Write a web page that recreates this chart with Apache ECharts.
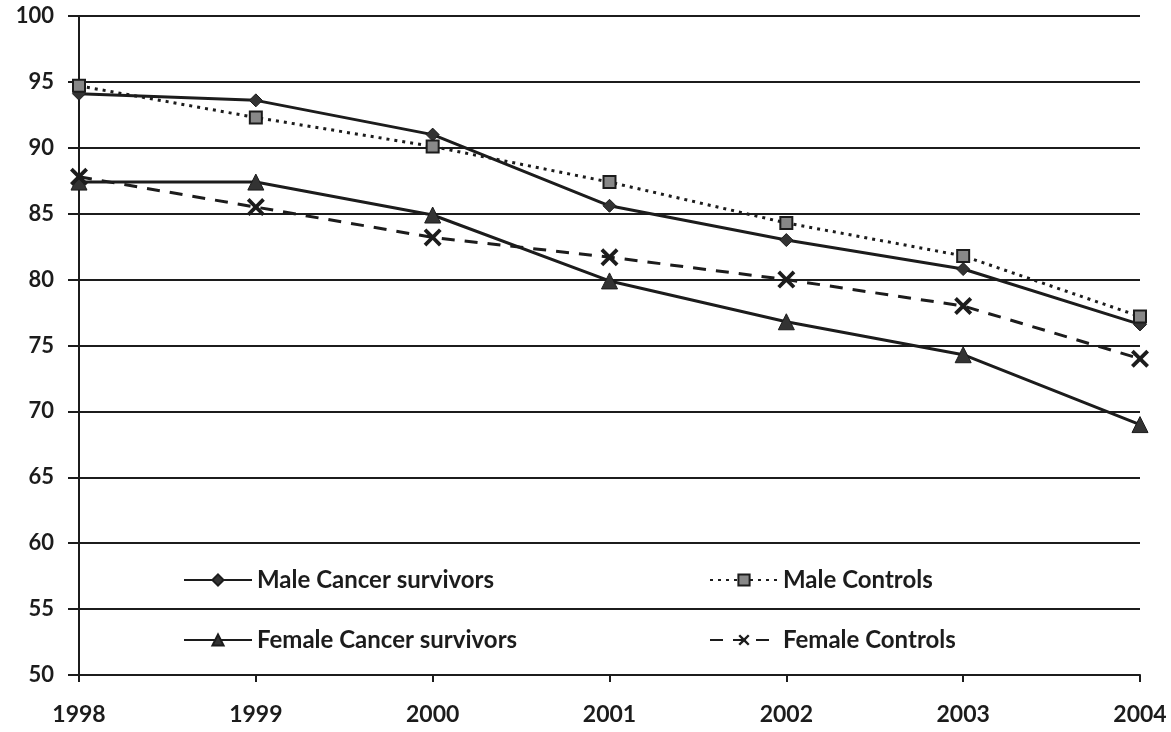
<!DOCTYPE html>
<html><head><meta charset="utf-8">
<script src="https://cdn.jsdelivr.net/npm/echarts@6/dist/echarts.min.js"></script>
<style>html,body{margin:0;padding:0;background:#fff}#c{width:1171px;height:732px}</style>
</head><body><div id="c"></div>
<script>
var years = ['1998','1999','2000','2001','2002','2003','2004'];
var maleCancer = [94.1, 93.6, 91.0, 85.6, 83.0, 80.8, 76.6];
var maleControls = [94.7, 92.3, 90.1, 87.4, 84.3, 81.8, 77.2];
var femaleCancer = [87.4, 87.4, 84.9, 79.9, 76.8, 74.3, 69.0];
var femaleControls = [87.8, 85.5, 83.2, 81.7, 80.0, 78.0, 74.0];
var names = ['Male Cancer survivors','Male Controls','Female Cancer survivors','Female Controls'];

var ink = '#1c1c1c';
var xPath = 'path://M0,1.5 L1.5,0 L5,3.5 L8.5,0 L10,1.5 L6.5,5 L10,8.5 L8.5,10 L5,6.5 L1.5,10 L0,8.5 L3.5,5 Z';
var font = 'Lato, "Open Sans", sans-serif';
var chart = echarts.init(document.getElementById('c'));
function leg(name, left, top){
  return {data:[name], left:left, top:top, itemWidth:68, itemHeight:14, itemGap:6, padding:0,
    textStyle:{fontFamily:font, fontSize:24, color:ink, fontWeight:'bold'}};
}
chart.setOption({
  animation:false,
  backgroundColor:'#fff',
  grid:{left:79, right:31, top:16, bottom:57},
  legend:[leg(names[0],183,568), leg(names[1],709,568), leg(names[2],183,628), leg(names[3],709,628)],
  xAxis:{type:'category', data:years, boundaryGap:false,
    axisLine:{lineStyle:{color:ink, width:2}},
    axisTick:{show:true, length:7, lineStyle:{color:ink, width:2}},
    axisLabel:{fontFamily:font, fontSize:23, color:ink, margin:28, fontWeight:'bold'},
    splitLine:{show:false}},
  yAxis:{type:'value', min:50, max:100, interval:5,
    axisLine:{show:true, lineStyle:{color:ink, width:2}},
    axisTick:{show:true, length:11, lineStyle:{color:ink, width:2}},
    axisLabel:{fontFamily:font, fontSize:22, color:ink, margin:25, fontWeight:'bold'},
    splitLine:{show:true, lineStyle:{color:ink, width:2}}},
  series:[
    {name:names[0], type:'line', data:maleCancer, symbol:'diamond', symbolSize:13,
      lineStyle:{color:ink, width:3}, itemStyle:{color:'#333', borderColor:ink, borderWidth:1}},
    {name:names[1], type:'line', data:maleControls, symbol:'rect', symbolSize:12,
      lineStyle:{color:ink, width:3, type:[3,5]}, itemStyle:{color:'#888', borderColor:ink, borderWidth:2}},
    {name:names[2], type:'line', data:femaleCancer, symbol:'triangle', symbolSize:16,
      lineStyle:{color:ink, width:3}, itemStyle:{color:'#333', borderColor:ink, borderWidth:1}},
    {name:names[3], type:'line', data:femaleControls, symbol:xPath, symbolSize:18,
      lineStyle:{color:ink, width:3, type:[13,10]}, itemStyle:{color:ink, borderWidth:0}}
  ]
});
</script></body></html>
